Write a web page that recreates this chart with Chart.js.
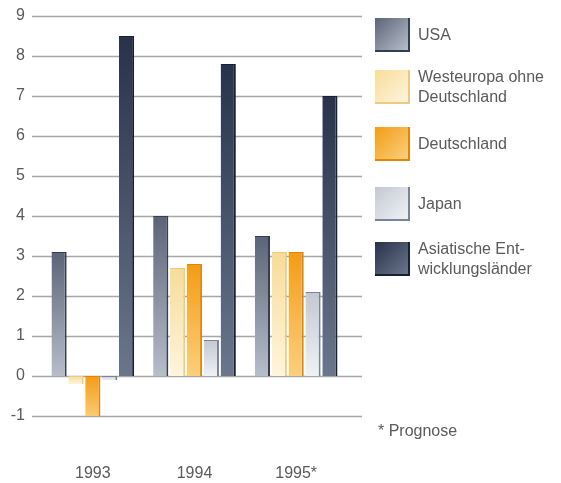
<!DOCTYPE html>
<html>
<head>
<meta charset="utf-8">
<script src="https://cdn.jsdelivr.net/npm/chart.js@4/dist/chart.umd.min.js"></script>
<style>
  body { margin: 0; background: #fff; }
  #wrap { position: relative; width: 561px; height: 483px; font-family: "Liberation Sans", Arial, sans-serif; color: #5a5a5a; }
  canvas { display: block; }
  #legend .item { position: absolute; left: 375px; display: flex; align-items: center; }
  #legend .box { width: 35px; height: 34px; box-sizing: border-box; margin-right: 8px; flex: none; }
  #legend .txt { font-size: 16px; line-height: 20px; }
  #note { position: absolute; left: 378px; top: 422px; font-size: 16px; }
</style>
</head>
<body>
<div id="wrap">
  <canvas id="chart" width="561" height="483"></canvas>
  <div id="legend"></div>
  <div id="note">* Prognose</div>
</div>
<script>
// Wachstum des realen BIP in %
const jahre = ['1993', '1994', '1995*'];
const usa = [3.1, 4.0, 3.5];
const westeuropa = [-0.2, 2.7, 3.1];
const deutschland = [-1.1, 2.8, 3.1];
const japan = [-0.1, 0.9, 2.1];
const asien = [8.5, 7.8, 7.0];
const yTicks = [-1, 0, 1, 2, 3, 4, 5, 6, 7, 8, 9];

// Farben: oben dunkel, unten hell, rechte Kante dunkel
const serien = [
  { name: ['USA'], data: usa, top: '#5b6477', bottom: '#b7bdc9', edge: '#363f52' },
  { name: ['Westeuropa ohne', 'Deutschland'], data: westeuropa, top: '#f7dc98', bottom: '#fff5de', edge: '#eccb80' },
  { name: ['Deutschland'], data: deutschland, top: '#f39c16', bottom: '#fbcf7e', edge: '#e08600' },
  { name: ['Japan'], data: japan, top: '#c3c8d2', bottom: '#eff1f4', edge: '#7a8496' },
  { name: ['Asiatische Ent-', 'wicklungsländer'], data: asien, top: '#28324a', bottom: '#6a768b', edge: '#182034' }
];
const legendTop = [18, 70, 127, 187, 242];

function barFill(s) {
  return function(c) {
    const chart = c.chart, y = chart.scales.y;
    if (c.type !== 'data' || !y) return s.bottom;
    const y0 = y.getPixelForValue(0), y1 = y.getPixelForValue(c.raw);
    if (!isFinite(y0) || !isFinite(y1) || y0 === y1) return s.bottom;
    const g = chart.ctx.createLinearGradient(0, Math.min(y0, y1), 0, Math.max(y0, y1));
    g.addColorStop(0, s.top);
    g.addColorStop(1, s.bottom);
    return g;
  };
}

// horizontale Linien etwas breiter als der Balkenbereich
const gridLines = {
  id: 'gridLines',
  beforeDatasetsDraw(chart) {
    const { ctx, chartArea, scales: { y } } = chart;
    ctx.save();
    ctx.strokeStyle = '#a6a6a6';
    ctx.lineWidth = 1.3;
    yTicks.forEach(v => {
      const py = Math.round(y.getPixelForValue(v)) + 0.5;
      ctx.beginPath();
      ctx.moveTo(chartArea.left - 10, py);
      ctx.lineTo(chartArea.right + 15, py);
      ctx.stroke();
    });
    ctx.restore();
  }
};

new Chart(document.getElementById('chart'), {
  type: 'bar',
  data: {
    labels: jahre,
    datasets: serien.map(s => ({
      label: s.name.join(' '),
      data: s.data,
      backgroundColor: barFill(s),
      borderColor: s.edge,
      borderWidth: { right: 2, top: 1, left: 0, bottom: 0 },
      borderSkipped: false,
      categoryPercentage: 0.83,
      barPercentage: 0.9
    }))
  },
  options: {
    responsive: false,
    animation: false,
    layout: { padding: { top: 16, right: 214, bottom: 0, left: 0 } },
    plugins: { legend: { display: false }, tooltip: { enabled: false } },
    scales: {
      x: {
        afterFit(scale) { scale.height = 67; },
        grid: { display: false, drawTicks: false },
        border: { display: false },
        ticks: { padding: 48, color: '#5a5a5a', font: { family: 'Liberation Sans', size: 16 } }
      },
      y: {
        min: -1,
        max: 9,
        afterFit(scale) { scale.width = 42; scale.paddingTop = 0; scale.paddingBottom = 0; },
        afterBuildTicks(scale) { scale.ticks = yTicks.map(v => ({ value: v })); },
        grid: { display: false, drawTicks: false },
        border: { display: false },
        ticks: { padding: 17, color: '#5a5a5a', font: { family: 'Liberation Sans', size: 16 } }
      }
    }
  },
  plugins: [gridLines]
});

// Legende rechts
const legend = document.getElementById('legend');
serien.forEach((s, i) => {
  const item = document.createElement('div');
  item.className = 'item';
  item.style.top = legendTop[i] + 'px';
  item.style.height = '34px';
  const box = document.createElement('div');
  box.className = 'box';
  box.style.background = 'linear-gradient(135deg, ' + s.top + ', ' + s.bottom + ')';
  box.style.borderRight = '2px solid ' + s.edge;
  box.style.borderBottom = '2px solid ' + s.edge;
  const txt = document.createElement('div');
  txt.className = 'txt';
  txt.innerHTML = s.name.join('<br>');
  item.appendChild(box);
  item.appendChild(txt);
  legend.appendChild(item);
});
</script>
</body>
</html>
